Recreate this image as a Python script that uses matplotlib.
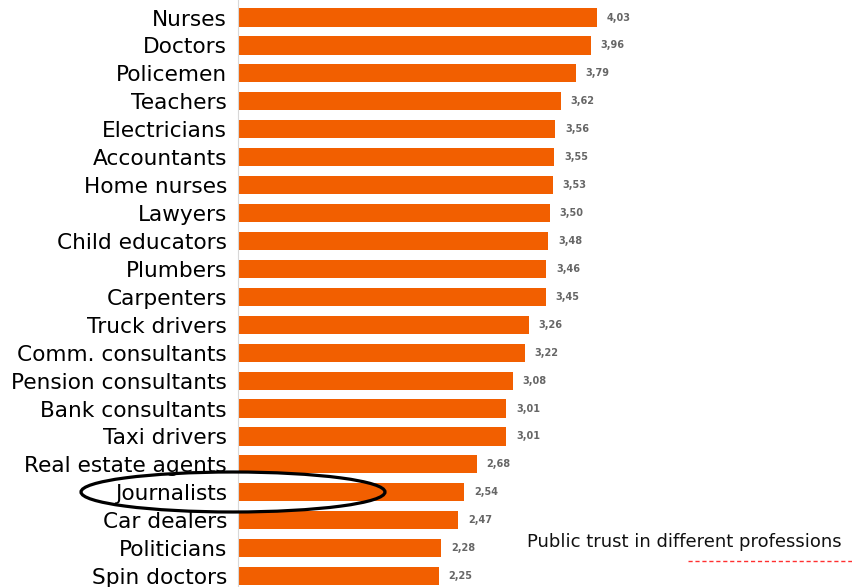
import matplotlib
matplotlib.use("Agg")
import matplotlib.pyplot as plt
from matplotlib.patches import Ellipse
from matplotlib.lines import Line2D

professions = ["Nurses", "Doctors", "Policemen", "Teachers", "Electricians",
               "Accountants", "Home nurses", "Lawyers", "Child educators",
               "Plumbers", "Carpenters", "Truck drivers", "Comm. consultants",
               "Pension consultants", "Bank consultants", "Taxi drivers",
               "Real estate agents", "Journalists", "Car dealers",
               "Politicians", "Spin doctors"]
trust = [4.03, 3.96, 3.79, 3.62, 3.56, 3.55, 3.53, 3.50, 3.48, 3.46, 3.45,
         3.26, 3.22, 3.08, 3.01, 3.01, 2.68, 2.54, 2.47, 2.28, 2.25]

W, H = 853, 587
fig = plt.figure(figsize=(W / 100, H / 100), dpi=100)
ax = fig.add_axes([238 / W, 0, 1 - 238 / W, 1])

rows = list(range(len(professions)))
ax.barh(rows, trust, height=0.65, color="#f25f00")

for y, v in zip(rows, trust):
    ax.text(v + 0.11, y, f"{v:.2f}".replace(".", ","), va="center", ha="left",
            fontsize=7, color="#666666", fontweight="semibold")

ax.set_xlim(0, 6.9)
ax.set_ylim(20.39, -0.627)
ax.set_yticks(rows)
ax.set_yticklabels(professions, fontsize=15.6, color="black")
ax.tick_params(axis="y", length=0, pad=8)
ax.set_xticks([])
for side in ["top", "right", "bottom"]:
    ax.spines[side].set_visible(False)
ax.spines["left"].set_color("#d8d8d8")
ax.spines["left"].set_linewidth(0.8)

# ring around the journalists row
ring = Ellipse((233 / W, 1 - 492 / H), 304 / W, 40 / H, transform=fig.transFigure,
               fill=False, edgecolor="black", linewidth=2.3, clip_on=False)
fig.add_artist(ring)

fig.text(527 / W, 1 - 542 / H, "Public trust in different professions",
         fontsize=13, ha="left", va="center", color="#111111")
fig.add_artist(Line2D([688 / W, 1], [1 - 560.5 / H] * 2, transform=fig.transFigure,
                      color="#ff3030", linewidth=1.0, linestyle=(0, (3, 2))))

fig.savefig("out.png", dpi=100)
